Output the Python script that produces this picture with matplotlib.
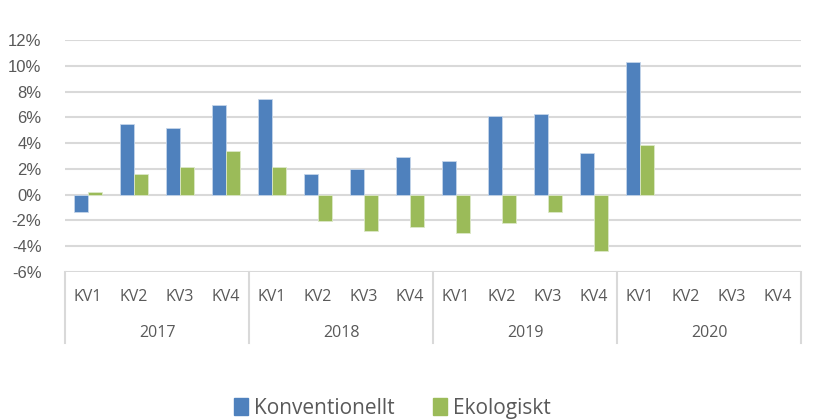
import matplotlib.pyplot as plt
import numpy as np
from matplotlib.patches import Patch
from matplotlib.lines import Line2D

# Data (percent change)
years = ['2017', '2018', '2019', '2020']
quarters = ['KV1', 'KV2', 'KV3', 'KV4']
konventionellt = [-1.37, 5.47, 5.16, 6.92,
                  7.41, 1.63, 1.97, 2.93,
                  2.59, 6.11, 6.27, 3.24,
                  10.26, np.nan, np.nan, np.nan]
ekologiskt = [0.2, 1.63, 2.12, 3.39,
              2.12, -2.02, -2.82, -2.51,
              -2.98, -2.18, -1.37, -4.40,
              3.89, np.nan, np.nan, np.nan]

blue = '#4F81BD'
green = '#9BBB59'
grid_c = '#D9D9D9'
txt_c = '#595959'
lab_fonts = ['Liberation Sans Narrow', 'Open Sans', 'DejaVu Sans']

fig = plt.figure(figsize=(8.14, 4.19), dpi=100)
ax = fig.add_axes([65/814, 1 - 272/419, (801-65)/814, (272-40)/419])

x = np.arange(len(konventionellt))
w = 0.3
ax.bar(x - w/2, konventionellt, w, color=blue, edgecolor='#C5D5EA', linewidth=0.6, zorder=3)
ax.bar(x + w/2, ekologiskt, w, color=green, edgecolor='#DCE8C8', linewidth=0.6, zorder=3)

ax.set_xlim(-0.5, len(x) - 0.5)
ax.set_ylim(-6, 12)
ax.set_yticks(np.arange(-6, 13, 2))
ax.set_yticklabels([f'{v}%' for v in range(-6, 13, 2)], fontsize=12,
                   color=txt_c, family='Liberation Sans')
ax.tick_params(axis='y', length=0, pad=17)
ax.set_xticks([])
ax.grid(axis='y', color=grid_c, linewidth=1.5, zorder=0)
for s in ax.spines.values():
    s.set_visible(False)

# category axis below plot
trans = ax.get_xaxis_transform()
bottom = -(343 - 272) / (272 - 40)
for i in range(len(x)):
    ax.text(x[i], -(297 - 272) / (272 - 40), quarters[i % 4], transform=trans,
            ha='center', va='center', fontsize=11.5, color=txt_c, family=lab_fonts)
for j, yr in enumerate(years):
    ax.text(j * 4 + 1.5, -(333 - 272) / (272 - 40), yr, transform=trans,
            ha='center', va='center', fontsize=11.5, color=txt_c, family=lab_fonts)
for j in range(len(years) + 1):
    ax.add_line(Line2D([j * 4 - 0.5] * 2, [0, bottom], transform=trans,
                       color=grid_c, linewidth=1.5, clip_on=False))

handles = [Patch(color=blue, label='Konventionellt'),
           Patch(color=green, label='Ekologiskt')]
fig.legend(handles=handles, loc='center', bbox_to_anchor=(0.482, 0.025), ncol=2,
           frameon=False, handlelength=0.7, handleheight=0.9, handletextpad=0.3,
           columnspacing=1.8, prop={'family': lab_fonts, 'size': 15},
           labelcolor=txt_c)

fig.savefig('out.png', dpi=100)
